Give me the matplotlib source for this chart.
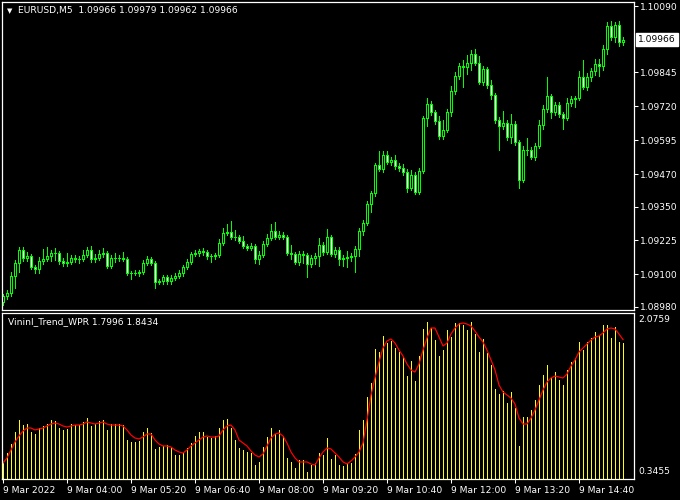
import numpy as np
import matplotlib.pyplot as plt

# EURUSD M5 closes, 9 Mar 2022 02:40 .. 15:35
open0 = 1.08998
closes = [
    1.09020, 1.09031, 1.09094, 1.09142, 1.09190, 1.09160, 1.09168, 1.09127, 1.09120, 1.09149,
    1.09156, 1.09168, 1.09179, 1.09179, 1.09149, 1.09142, 1.09145, 1.09160, 1.09156, 1.09156,
    1.09171, 1.09190, 1.09156, 1.09160, 1.09175, 1.09179, 1.09131, 1.09160, 1.09160, 1.09160,
    1.09156, 1.09105, 1.09105, 1.09105, 1.09108, 1.09142, 1.09156, 1.09142, 1.09072, 1.09075,
    1.09090, 1.09075, 1.09086, 1.09094, 1.09105, 1.09127, 1.09145, 1.09175, 1.09179, 1.09186,
    1.09182, 1.09168, 1.09168, 1.09171, 1.09215, 1.09252, 1.09256, 1.09238, 1.09238, 1.09223,
    1.09204, 1.09197, 1.09204, 1.09156, 1.09171, 1.09212, 1.09234, 1.09260, 1.09238, 1.09245,
    1.09238, 1.09179, 1.09175, 1.09145, 1.09175, 1.09171, 1.09138, 1.09160, 1.09168, 1.09208,
    1.09182, 1.09238, 1.09175, 1.09190, 1.09156, 1.09160, 1.09164, 1.09168, 1.09193, 1.09260,
    1.09289, 1.09359, 1.09400, 1.09503, 1.09489, 1.09540, 1.09514, 1.09522, 1.09500, 1.09492,
    1.09477, 1.09418, 1.09466, 1.09404, 1.09481, 1.09677, 1.09728, 1.09699, 1.09666, 1.09610,
    1.09632, 1.09699, 1.09776, 1.09832, 1.09869, 1.09865, 1.09880, 1.09913, 1.09880, 1.09810,
    1.09858, 1.09799, 1.09762, 1.09669, 1.09647, 1.09658, 1.09607, 1.09655, 1.09588, 1.09448,
    1.09559, 1.09559, 1.09533, 1.09573, 1.09651, 1.09710, 1.09758, 1.09699, 1.09725, 1.09692,
    1.09677, 1.09732, 1.09747, 1.09751, 1.09828, 1.09791, 1.09828, 1.09850, 1.09876, 1.09869,
    1.09931, 1.10016, 1.09976, 1.10020, 1.09957, 1.09966,
]
# upper / lower shadows in points (0.00001)
wick_up = [
    7, 11, 15, 11, 11, 11, 15, 7, 7, 15, 37, 33, 11, 18, 7, 11, 33, 11, 11, 11,
    18, 11, 15, 15, 15, 18, 7, 11, 18, 11, 22, 7, 7, 11, 7, 11, 11, 7, 7, 7,
    7, 7, 11, 11, 11, 7, 11, 7, 11, 7, 11, 7, 7, 7, 15, 18, 30, 41, 26, 7,
    18, 7, 11, 7, 15, 11, 15, 26, 33, 15, 11, 7, 30, 7, 11, 11, 7, 11, 11, 26,
    11, 30, 7, 11, 11, 11, 22, 11, 11, 11, 11, 11, 7, 7, 52, 15, 15, 11, 18, 11,
    15, 11, 18, 11, 11, 7, 22, 11, 7, 18, 37, 11, 18, 15, 11, 22, 30, 15, 18, 26,
    11, 7, 18, 7, 11, 44, 11, 37, 11, 7, 15, 44, 11, 11, 18, 15, 70, 7, 11, 11,
    7, 18, 11, 7, 22, 63, 15, 11, 18, 18, 15, 15, 18, 11, 15, 11,
]
wick_dn = [
    11, 11, 11, 44, 33, 11, 11, 7, 15, 15, 11, 7, 18, 26, 11, 11, 11, 7, 11, 15,
    7, 7, 11, 11, 7, 11, 7, 7, 15, 11, 7, 7, 22, 7, 11, 7, 7, 7, 22, 7,
    11, 11, 11, 7, 7, 11, 7, 7, 7, 11, 11, 11, 22, 11, 7, 7, 7, 7, 11, 7,
    7, 7, 7, 15, 18, 7, 7, 7, 7, 7, 7, 7, 18, 7, 11, 30, 48, 11, 22, 37,
    11, 7, 7, 11, 22, 26, 33, 15, 59, 26, 15, 7, 30, 11, 7, 11, 7, 11, 11, 11,
    11, 15, 7, 7, 7, 7, 30, 11, 11, 11, 11, 7, 15, 11, 11, 74, 26, 26, 7, 7,
    11, 11, 15, 11, 89, 11, 11, 22, 11, 30, 7, 18, 7, 11, 7, 15, 11, 22, 11, 11,
    41, 7, 11, 30, 7, 7, 11, 15, 15, 37, 15, 18, 11, 18, 15, 11,
]

# VininI_Trend_WPR buffers
wpr_hist = [
    0.447, 0.560, 0.662, 0.798, 0.933, 0.877, 0.888, 0.798, 0.775, 0.843,
    0.866, 0.888, 0.933, 0.922, 0.843, 0.821, 0.832, 0.888, 0.877, 0.877,
    0.911, 0.956, 0.866, 0.888, 0.922, 0.933, 0.821, 0.888, 0.888, 0.888,
    0.877, 0.707, 0.685, 0.685, 0.696, 0.798, 0.843, 0.787, 0.606, 0.628,
    0.640, 0.651, 0.628, 0.538, 0.538, 0.560, 0.617, 0.673, 0.753, 0.798,
    0.798, 0.741, 0.730, 0.753, 0.843, 0.933, 0.945, 0.843, 0.707, 0.617,
    0.594, 0.572, 0.560, 0.425, 0.459, 0.628, 0.741, 0.843, 0.775, 0.821,
    0.753, 0.504, 0.459, 0.391, 0.481, 0.481, 0.345, 0.425, 0.447, 0.560,
    0.538, 0.730, 0.492, 0.538, 0.425, 0.413, 0.447, 0.447, 0.549, 0.821,
    0.933, 1.194, 1.352, 1.737, 1.703, 1.884, 1.804, 1.827, 1.748, 1.703,
    1.646, 1.431, 1.601, 1.375, 1.657, 1.963, 2.042, 1.974, 1.838, 1.657,
    1.725, 1.951, 1.872, 2.031, 2.031, 2.008, 1.951, 2.042, 1.906, 1.703,
    1.850, 1.691, 1.556, 1.284, 1.228, 1.262, 1.126, 1.250, 1.069, 0.640,
    0.967, 0.967, 1.047, 1.160, 1.329, 1.443, 1.556, 1.409, 1.476, 1.386,
    1.329, 1.499, 1.590, 1.635, 1.816, 1.725, 1.816, 1.861, 1.929, 1.895,
    2.008, 2.008, 1.861, 1.985, 1.816, 1.7996,
]
wpr_signal = [
    0.447, 0.504, 0.594, 0.685, 0.753, 0.809, 0.843, 0.843, 0.821, 0.832,
    0.843, 0.866, 0.888, 0.900, 0.888, 0.866, 0.854, 0.866, 0.877, 0.877,
    0.888, 0.911, 0.900, 0.888, 0.900, 0.911, 0.888, 0.877, 0.877, 0.877,
    0.866, 0.821, 0.764, 0.730, 0.719, 0.741, 0.775, 0.775, 0.707, 0.662,
    0.640, 0.640, 0.628, 0.594, 0.572, 0.560, 0.594, 0.640, 0.673, 0.707,
    0.741, 0.753, 0.741, 0.741, 0.753, 0.821, 0.866, 0.877, 0.821, 0.707,
    0.673, 0.640, 0.583, 0.538, 0.515, 0.549, 0.640, 0.730, 0.775, 0.787,
    0.753, 0.673, 0.572, 0.504, 0.459, 0.459, 0.459, 0.436, 0.425, 0.504,
    0.572, 0.617, 0.606, 0.560, 0.515, 0.459, 0.436, 0.470, 0.515, 0.572,
    0.673, 0.933, 1.216, 1.409, 1.590, 1.748, 1.827, 1.850, 1.804, 1.725,
    1.657, 1.567, 1.499, 1.476, 1.567, 1.725, 1.861, 1.974, 1.974, 1.872,
    1.771, 1.804, 1.906, 1.974, 2.019, 2.031, 2.019, 1.997, 1.940, 1.872,
    1.816, 1.725, 1.612, 1.499, 1.329, 1.250, 1.216, 1.182, 1.114, 0.956,
    0.888, 0.888, 0.956, 1.047, 1.160, 1.273, 1.363, 1.409, 1.431, 1.420,
    1.409, 1.454, 1.544, 1.612, 1.703, 1.748, 1.793, 1.838, 1.872, 1.884,
    1.918, 1.963, 1.974, 1.963, 1.906, 1.8434,
]

price_ticks = [1.10090, 1.09845, 1.09720, 1.09595, 1.09470, 1.09350, 1.09225, 1.09100, 1.08980]
time_ticks = [0, 16, 32, 48, 64, 80, 96, 112, 128, 144]
time_labels = ["9 Mar 2022", "9 Mar 04:00", "9 Mar 05:20", "9 Mar 06:40", "9 Mar 08:00",
               "9 Mar 09:20", "9 Mar 10:40", "9 Mar 12:00", "9 Mar 13:20", "9 Mar 14:40"]
last_price = 1.09966
wpr_levels = [2.0759, 0.3455]

LIME = "#00ff00"
FS = 6.6
plt.rcParams["font.family"] = ["DejaVu Sans"]

fig = plt.figure(figsize=(6.8, 5.0), dpi=100, facecolor="black")
ax = fig.add_axes([2 / 680, 1 - 310 / 500, 632 / 680, 308 / 500], facecolor="black")
ax2 = fig.add_axes([2 / 680, 1 - 479 / 500, 632 / 680, 166 / 500], facecolor="black")

n = len(closes)
x = np.arange(n)
c = np.array(closes)
o = np.concatenate([[open0], c[:-1]])
top = np.maximum(o, c)
bot = np.minimum(o, c)
hi = top + np.array(wick_up) * 1e-5
lo = bot - np.array(wick_dn) * 1e-5

# candles: bull hollow (black), bear filled (white), lime outline
ax.vlines(x, lo, hi, color=LIME, lw=0.5, zorder=1, antialiased=False)
fills = np.where(c >= o, "black", "white")
ax.bar(x, top - bot, bottom=bot, width=0.6, color=fills, edgecolor=LIME,
       linewidth=0.6, zorder=2, antialiased=False)

ax.set_xlim(-0.25, 157.75)
ax.set_ylim(1.08968, 1.10105)
ax.yaxis.tick_right()
ax.set_yticks(price_ticks)
ax.set_yticklabels([f"{p:.5f}" for p in price_ticks])
ax.tick_params(axis="y", colors="white", length=3, width=0.75, pad=1, labelsize=FS)
ax.set_xticks([])
for s in ax.spines.values():
    s.set_color("white")
    s.set_linewidth(0.9)

# current price marker
ax.annotate(f"{last_price:.5f}", xy=(1.0, last_price), xycoords=("axes fraction", "data"),
            xytext=(3, 0), textcoords="offset points", va="center", ha="left",
            fontsize=FS, color="black",
            bbox=dict(boxstyle="square,pad=0.2", fc="white", ec="white"))

fig.text(18 / 680, 1 - 11 / 500, "EURUSD,M5  1.09966 1.09979 1.09962 1.09966",
         color="white", fontsize=FS, va="center", ha="left")
fig.text(7 / 680, 1 - 11 / 500, "\u25bc", color="white", fontsize=5, va="center", ha="left")

# indicator window
ax2.vlines(x, 0, wpr_hist, color="#ffff00", lw=0.5, zorder=1, antialiased=False)
ax2.plot(x, wpr_signal, color="#ff0000", lw=0.9, zorder=2)
ax2.set_xlim(-0.25, 157.75)
ax2.set_ylim(0.2663, 2.1438)
ax2.set_yticks([])
ax2.set_xticks(time_ticks)
ax2.set_xticklabels(time_labels, ha="left")
ax2.tick_params(axis="x", colors="white", length=3, width=0.75, pad=2, labelsize=FS)
for s in ax2.spines.values():
    s.set_color("white")
    s.set_linewidth(0.9)
for v in wpr_levels:
    ax2.annotate(f"{v:.4f}", xy=(1.0, v), xycoords=("axes fraction", "data"),
                 xytext=(3, 0), textcoords="offset points", va="center", ha="left",
                 fontsize=FS, color="white")
ax2.text(6 / 632, 1 - 9 / 166, "VininI_Trend_WPR 1.7996 1.8434", transform=ax2.transAxes,
         color="white", fontsize=FS, va="center", ha="left")

fig.savefig("out.png", dpi=100, facecolor="black")
